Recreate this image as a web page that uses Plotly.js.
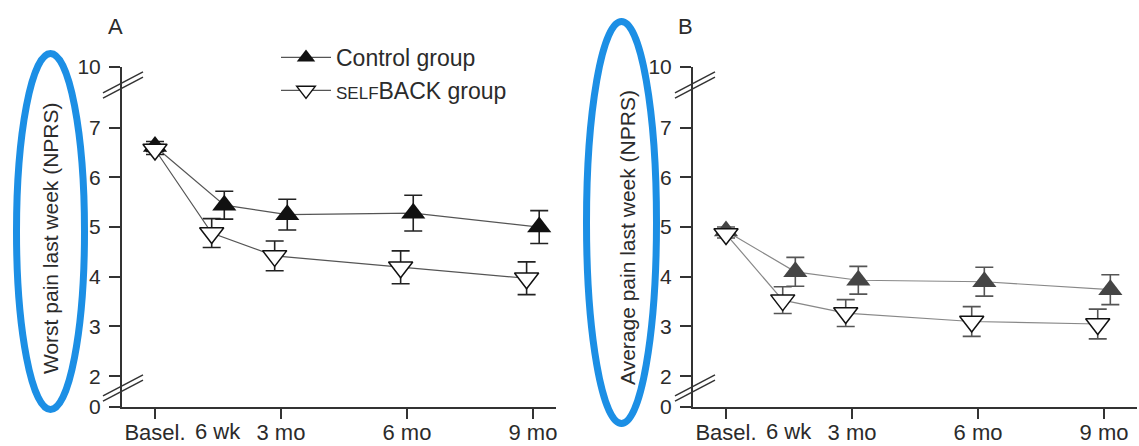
<!DOCTYPE html>
<html>
<head>
<meta charset="utf-8">
<script src="https://cdn.plot.ly/plotly-3.0.1.min.js"></script>
<style>
html,body{margin:0;padding:0;background:#fff;}
#chart{width:1139px;height:446px;}
</style>
</head>
<body>
<div id="chart"></div>
<script>
// ---------- data ----------
const timepoints = [0, 1.5, 3, 6, 9];           // months after baseline
const xTickVals = [0, 3, 6, 9];
const xTickText = ["Basel.", "3 mo", "6 mo", "9 mo"];
const midLabel = "6 wk";
const midLabelAt = 1.5;
const yTickVals = [0, 2, 3, 4, 5, 6, 7, 10];
const yTickText = ["0", "2", "3", "4", "5", "6", "7", "10"];

const worstControl     = [6.62, 5.44, 5.25, 5.28, 5.00];
const worstControlErr  = [0.10, 0.28, 0.31, 0.36, 0.33];
const worstSelfback    = [6.56, 4.88, 4.42, 4.19, 3.97];
const worstSelfbackErr = [0.10, 0.29, 0.30, 0.33, 0.33];

const avgControl       = [4.92, 4.10, 3.93, 3.90, 3.74];
const avgControlErr    = [0.08, 0.29, 0.28, 0.29, 0.30];
const avgSelfback      = [4.86, 3.53, 3.27, 3.10, 3.05];
const avgSelfbackErr   = [0.08, 0.27, 0.27, 0.30, 0.30];

const seriesNames = ["Control group", "<span style='font-size:17px'>SELF</span>BACK group"];
const panelLabels = ["A", "B"];
const yTitles = ["Worst pain last week (NPRS)", "Average pain last week (NPRS)"];

// ---------- helpers ----------
const W = 1139, H = 446;
const FONT = "Liberation Sans, Arial, Helvetica, sans-serif";
const TXT = "#2b2b2b";
const px = x => x / W;
const py = y => 1 - y / H;

// broken y axis: 2..7 linear, 7..10 and 0..2 compressed
function disp(v) {
  if (v > 7) return 7 + (v - 7) * (1.22 / 3);
  if (v < 2) return 2 - (2 - v) * (0.62 / 2);
  return v;
}
const dodge = 0.15;
function xs(off) { return timepoints.map((t, i) => t + (i === 0 ? 0 : off)); }
function errUp(vals, errs) { return vals.map((v, i) => disp(v + errs[i]) - disp(v)); }
function errDn(vals, errs) { return vals.map((v, i) => disp(v) - disp(v - errs[i])); }

function trace(vals, errs, isControl, panel) {
  const ax = panel === 0 ? ["x", "y"] : ["x2", "y2"];
  const lineCol = panel === 0 ? "#555" : "#888";
  const fillCtl = panel === 0 ? "#111" : "#454545";
  const errCol = panel === 0 ? "#222" : "#555";
  return {
    type: "scatter", mode: "lines+markers",
    x: xs(isControl ? dodge : -dodge),
    y: vals.map(disp),
    xaxis: ax[0], yaxis: ax[1],
    name: seriesNames[isControl ? 0 : 1],
    showlegend: panel === 0,
    line: {color: lineCol, width: 1.2},
    marker: isControl
      ? {symbol: "triangle-up", size: 21, color: fillCtl, line: {width: 0}}
      : {symbol: "triangle-down", size: 21, color: "#fff", line: {color: "#111", width: 1.5}},
    error_y: {type: "data", symmetric: false, array: errUp(vals, errs), arrayminus: errDn(vals, errs),
              color: errCol, thickness: 1.6, width: 9},
    hoverinfo: "skip"
  };
}

const data = [
  trace(worstControl, worstControlErr, true, 0),
  trace(worstSelfback, worstSelfbackErr, false, 0),
  trace(avgControl, avgControlErr, true, 1),
  trace(avgSelfback, avgSelfbackErr, false, 1)
];

function xAxis(d0, d1, r1, anchor) {
  return {
    domain: [px(d0), px(d1)], range: [-0.786, r1], anchor: anchor,
    tickmode: "array", tickvals: xTickVals, ticktext: xTickText,
    ticks: "outside", ticklen: 10, tickwidth: 2, tickcolor: "#333",
    showline: true, linecolor: "#333", linewidth: 2,
    showgrid: false, zeroline: false, ticklabelstandoff: -5,
    tickfont: {family: FONT, size: 22, color: TXT}, fixedrange: true
  };
}
function yAxis(anchor) {
  return {
    domain: [py(407), py(67)], range: [disp(0), disp(10)], anchor: anchor,
    tickmode: "array", tickvals: yTickVals.map(disp), ticktext: yTickText,
    ticks: "outside", ticklen: 11, tickwidth: 2, tickcolor: "#333",
    showline: true, linecolor: "#333", linewidth: 2,
    showgrid: false, zeroline: false, ticklabelstandoff: 4,
    tickfont: {family: FONT, size: 21, color: TXT}, fixedrange: true
  };
}

function slashes(cx, cy) {
  const out = [];
  [-2.6, 2.6].forEach(o => {
    out.push({type: "line", xref: "paper", yref: "paper",
      x0: px(cx - 20), y0: py(cy + o + 10.5), x1: px(cx + 20), y1: py(cy + o - 10.5),
      line: {color: "#333", width: 1.5}});
  });
  return out;
}
const ellipseCol = "#1C8FE5";
const shapes = [
  {type: "circle", xref: "paper", yref: "paper", x0: px(16.5), x1: px(84.5), y0: py(409.5), y1: py(53.5),
   line: {color: ellipseCol, width: 7}},
  {type: "circle", xref: "paper", yref: "paper", x0: px(586.5), x1: px(656.5), y0: py(423.5), y1: py(21.5),
   line: {color: ellipseCol, width: 7}}
].concat(slashes(123, 85), slashes(123, 388), slashes(695, 85), slashes(695, 388));

function ann(text, xref, x, y, size, angle) {
  return {text: text, xref: xref, yref: "paper", x: x, y: y, xanchor: "center", yanchor: "middle",
          showarrow: false, textangle: angle || 0, font: {family: FONT, size: size, color: TXT}};
}
const annotations = [
  ann(panelLabels[0], "paper", px(115), py(27), 22),
  ann(panelLabels[1], "paper", px(685), py(27), 22),
  ann(yTitles[0], "paper", px(50), py(238), 21, -90),
  ann(yTitles[1], "paper", px(627), py(238), 21, -90),
  ann(midLabel, "x", midLabelAt, py(431), 22),
  ann(midLabel, "x2", midLabelAt, py(431), 22)
];

const layout = {
  width: W, height: H, autosize: false,
  margin: {l: 0, r: 0, t: 0, b: 0},
  paper_bgcolor: "#fff", plot_bgcolor: "#fff",
  font: {family: FONT, color: TXT},
  xaxis: xAxis(122, 556, 9.55, "y"),
  yaxis: yAxis("x"),
  xaxis2: xAxis(693, 1137, 9.785, "y2"),
  yaxis2: yAxis("x2"),
  showlegend: true,
  legend: {x: px(276), y: py(36), xanchor: "left", yanchor: "top",
           bgcolor: "rgba(0,0,0,0)", font: {family: FONT, size: 23, color: TXT},
           itemwidth: 50, tracegroupgap: 0},
  shapes: shapes,
  annotations: annotations
};

Plotly.newPlot("chart", data, layout, {displayModeBar: false, staticPlot: true});
</script>
</body>
</html>
